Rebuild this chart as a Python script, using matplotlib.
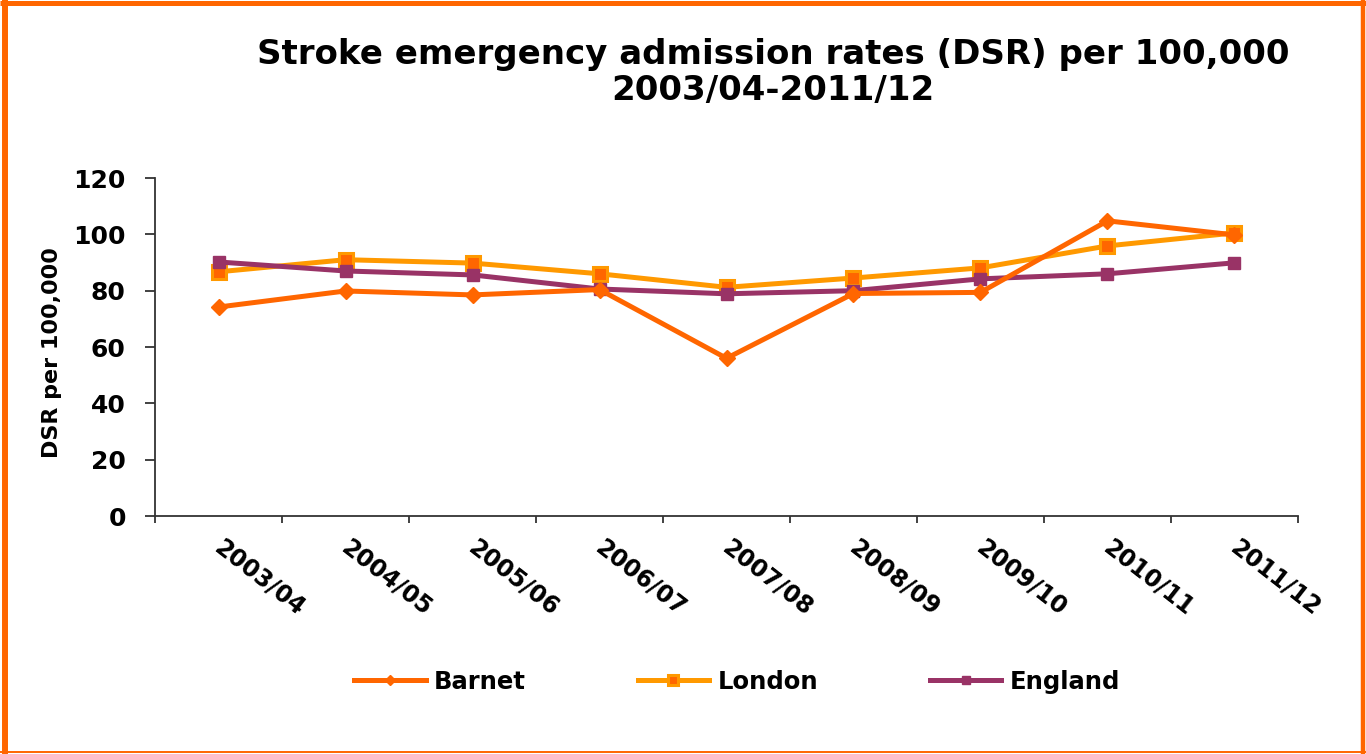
import matplotlib
matplotlib.use("Agg")
import matplotlib.pyplot as plt
from matplotlib.lines import Line2D
from matplotlib.transforms import ScaledTranslation
import numpy as np

plt.rcParams["font.family"] = ["DejaVu Sans"]
plt.rcParams["font.weight"] = "bold"

years = ["2003/04", "2004/05", "2005/06", "2006/07", "2007/08",
         "2008/09", "2009/10", "2010/11", "2011/12"]
barnet = [74.2, 79.9, 78.5, 80.4, 56.0, 79.0, 79.4, 104.8, 99.8]
london = [86.7, 91.0, 89.8, 86.0, 81.2, 84.5, 88.1, 95.9, 100.5]
england = [90.2, 87.0, 85.6, 80.6, 78.9, 80.0, 84.2, 86.0, 89.9]

fig = plt.figure(figsize=(13.66, 7.54), dpi=100)
ax = fig.add_axes([0.1135, 0.3156, 0.8367, 0.4483])

x = np.arange(len(years))
ax.plot(x, barnet, color="#FF6600", lw=3.6, marker="D", ms=8,
        mfc="#FF6600", mec="#FF6600", label="Barnet", zorder=3)
ax.plot(x, london, color="#FF9900", lw=3.6, marker="s", ms=10,
        mfc="#FF6600", mec="#FF9900", mew=2.2, label="London", zorder=2)
ax.plot(x, england, color="#993366", lw=3.6, marker="s", ms=8.5,
        mfc="#993366", mec="#993366", label="England", zorder=2)

ax.set_xlim(-0.5, len(years) - 0.5)
ax.set_ylim(0, 120)
ax.set_yticks(range(0, 121, 20))
ax.tick_params(axis="y", labelsize=18, length=7, width=1.3, color="#333333", pad=14)

# category boundaries carry the ticks, labels sit at the centres
ax.set_xticks(np.arange(-0.5, len(years)), [])
ax.set_xticks(x, years, minor=True)
ax.tick_params(axis="x", which="major", length=5, width=1.3, color="#333333")
ax.tick_params(axis="x", which="minor", length=0, labelsize=17, pad=14)
shift = ScaledTranslation(-9 / 100, 0, fig.dpi_scale_trans)
for lbl in ax.get_xticklabels(minor=True):
    lbl.set_rotation(-38)
    lbl.set_ha("left")
    lbl.set_va("top")
    lbl.set_transform(lbl.get_transform() + shift)

for side in ("top", "right"):
    ax.spines[side].set_visible(False)
for side in ("left", "bottom"):
    ax.spines[side].set_color("#333333")
    ax.spines[side].set_linewidth(1.3)

ax.set_ylabel("DSR per 100,000", fontsize=16, fontweight="bold")
ax.yaxis.set_label_coords(-0.0814, 0.485)

fig.text(0.566, 0.904, "Stroke emergency admission rates (DSR) per 100,000\n2003/04-2011/12",
         ha="center", va="center", fontsize=24.5, fontweight="bold", linespacing=1.1)

fig.legend(loc="center", bbox_to_anchor=(0.5395, 0.0955), ncol=3, frameon=False,
           fontsize=17.5, handlelength=2.95, handletextpad=0.33, columnspacing=4.6,
           markerscale=0.7)

# orange frame round the whole chart
frame = dict(color="#FF6600", transform=fig.transFigure, solid_capstyle="butt")
fig.add_artist(Line2D([0.00366, 0.00366], [0, 1], lw=4.3, **frame))
fig.add_artist(Line2D([0, 1], [0.996, 0.996], lw=3.6, **frame))
fig.add_artist(Line2D([0.9978, 0.9978], [0, 1], lw=3.2, **frame))
fig.add_artist(Line2D([0, 1], [0.002, 0.002], lw=1.4, **frame))

fig.savefig("out.png", dpi=100, facecolor="white")
